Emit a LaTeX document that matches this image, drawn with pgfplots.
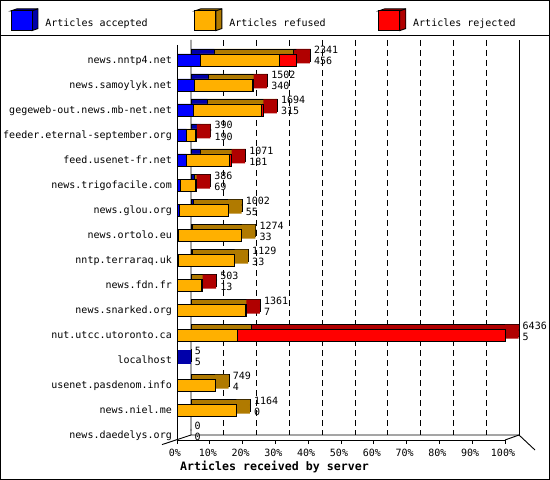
\documentclass[border=0pt]{standalone}
\usepackage{fontspec}
\setmainfont{DejaVu Sans Mono}
\usepackage{pgfplots}
\usepackage{pgfplotstable}
\pgfplotsset{compat=1.18}

\definecolor{cblue}{RGB}{0,0,255}
\definecolor{dblue}{RGB}{0,0,170}
\definecolor{corange}{RGB}{255,176,0}
\definecolor{dorange}{RGB}{176,122,0}
\definecolor{cred}{RGB}{255,0,0}
\definecolor{dred}{RGB}{176,0,0}

% row, accepted, refused, rejected, total offered; dr/do/db = depth of the side face
\pgfplotstableread{
row acc ref rej tot dr do db
0 456 1558 327 2341 264.9 0 0
1 340 1140 22 1502 264.9 0 0
2 315 1349 30 1694 264.9 0 0
3 190 180 20 390 264.9 0 0
4 181 845 45 1071 264.9 0 0
5 69 297 20 386 264.9 0 0
6 55 947 0 1002 0 264.9 0
7 33 1241 0 1274 0 264.9 0
8 33 1096 0 1129 0 264.9 0
9 13 471 19 503 264.9 0 0
10 7 1340 14 1361 264.9 0 0
11 5 1183 5248 6436 264.9 0 0
12 5 0 0 5 0 0 264.9
13 4 745 0 749 0 264.9 0
14 0 1164 0 1164 0 264.9 0
15 0 0 0 0 0 0 0
}\servers

\newcommand\cube[2]{%
  \draw[black, fill=#2, line width=0.9bp] (0bp,12.8bp) -- (6bp,14.9bp) -- (27bp,14.9bp)
    -- (27bp,-4.8bp) -- (21bp,-6.9bp) -- (21bp,12.8bp) -- cycle;
  \draw[black, line width=0.9bp] (21bp,12.8bp) -- (27bp,14.9bp);
  \draw[black, fill=#1, line width=0.9bp] (0bp,-6.9bp) rectangle (21bp,12.8bp);
}

\pgfplotsset{
  frame3d/.style={
    scale only axis, width=328bp, height=395bp,
    xmin=0, xmax=6436, ymin=-0.6, ymax=15.2, y dir=reverse,
    enlargelimits=false, clip=false, anchor=south west,
    axis line style={draw=none},
    /pgf/number format/assume math mode=true,
  },
  edge/.style={draw=black, line width=0.9bp},
}

\begin{document}
\begin{tikzpicture}[font=\fontsize{10bp}{12bp}\selectfont]
\useasboundingbox (0,0) rectangle (550bp,480bp);
\fill[white] (0,0) rectangle (550bp,480bp);

% back plane: walls, grid and the far copy of the bars
\begin{axis}[frame3d, at={(191bp,45bp)}, xbar stacked, bar width=12bp,
  xtick={643.6,1287.2,1930.8,2574.4,3218,3861.6,4505.2,5148.8,5792.4},
  xticklabels={}, major tick length=0pt, ytick=\empty,
  xmajorgrids, grid style={black, line width=0.9bp, dash pattern=on 6bp off 4bp}]
\draw[line width=0.9bp] (rel axis cs:0,1) -- (rel axis cs:0,0) -- (rel axis cs:1,0) -- ++(16bp,0);
\draw[line width=0.9bp] (rel axis cs:1,0) -- (rel axis cs:1,1);
\addplot[fill=dblue, edge] table[x=acc, y=row]{\servers};
\addplot[fill=dorange, edge] table[x=ref, y=row]{\servers};
\addplot[fill=dred, edge] table[x=rej, y=row]{\servers};
\end{axis}

% side faces, coloured like the last segment of each bar
\begin{axis}[frame3d, at={(177bp,43.5bp)}, xbar stacked, bar width=14bp, ticks=none]
\addplot[draw=none, fill=none] table[x=acc, y=row]{\servers};
\addplot[draw=none, fill=none] table[x=ref, y=row]{\servers};
\addplot[draw=none, fill=none] table[x=rej, y=row]{\servers};
\addplot[draw=none, fill=dred] table[x=dr, y=row]{\servers};
\addplot[draw=none, fill=dorange] table[x=do, y=row]{\servers};
\addplot[draw=none, fill=dblue] table[x=db, y=row]{\servers};
\end{axis}

% front plane
\begin{axis}[frame3d, at={(177bp,40bp)}, xbar stacked, bar width=12bp,
  xtick={0,643.6,1287.2,1930.8,2574.4,3218,3861.6,4505.2,5148.8,5792.4,6436},
  xticklabels={0\%,10\%,20\%,30\%,40\%,50\%,60\%,70\%,80\%,90\%,100\%},
  xtick pos=bottom, tick align=outside, major tick length=4bp,
  xtick style={black, line width=0.9bp},
  ytick={0,...,15}, ytick pos=left, ytick style={draw=none},
  yticklabels={news.nntp4.net, news.samoylyk.net, gegeweb-out.news.mb-net.net,
    feeder.eternal-september.org, feed.usenet-fr.net, news.trigofacile.com,
    news.glou.org, news.ortolo.eu, nntp.terraraq.uk, news.fdn.fr,
    news.snarked.org, nut.utcc.utoronto.ca, localhost, usenet.pasdenom.info,
    news.niel.me, news.daedelys.org},
  yticklabel style={anchor=base east, inner sep=0pt, xshift=-1bp, yshift=-3.3bp},
  xticklabel style={anchor=base, inner sep=0pt, xshift=-2bp, yshift=-12.3bp},
  xlabel={Articles received by server},
  xlabel style={at={(rel axis cs:0,0)}, anchor=base west, inner sep=0pt,
    xshift=3bp, yshift=-30.7bp, font=\fontsize{11.6bp}{13bp}\selectfont\bfseries},
  legend columns=3,
  legend style={at={(axis description cs:-0.5076,1.0927)}, anchor=north west,
    draw=none, fill=none, inner sep=0pt, outer sep=0pt,
    column sep=0pt, row sep=0pt, nodes={inner sep=0pt},
    /tikz/every odd column/.append style={column sep=7bp}}]
\draw[line width=0.9bp] (rel axis cs:0,1) -- (rel axis cs:0,0) -- (rel axis cs:1,0);
\draw[line width=0.9bp] (rel axis cs:0,0) ++(-15bp,-4.6bp) -- ++(29bp,9.6bp);
\draw[line width=0.9bp] (rel axis cs:1,0) -- ++(14bp,5bp);
\addplot[fill=cblue, edge, legend image code/.code={\cube{cblue}{dblue}}]
  table[x=acc, y=row]{\servers};
\addlegendentry{\makebox[149bp][l]{Articles accepted}}
\addplot[fill=corange, edge, legend image code/.code={\cube{corange}{dorange}}]
  table[x=ref, y=row]{\servers};
\addlegendentry{\makebox[149bp][l]{Articles refused}}
\addplot[fill=cred, edge, legend image code/.code={\cube{cred}{dred}}]
  table[x=rej, y=row]{\servers};
\addlegendentry{\makebox[149bp][l]{Articles rejected}}
\end{axis}

% totals and accepted counts at the far end of each bar
\begin{axis}[frame3d, at={(191bp,45bp)}, ticks=none]
\addplot[only marks, mark=*, mark size=0.1bp, mark options={draw=none, fill=none},
  point meta=explicit symbolic, nodes near coords={\pgfplotspointmeta},
  nodes near coords style={anchor=base west, inner sep=0pt, xshift=3.5bp, yshift=1bp}]
  table[x=tot, y=row, meta=tot]{\servers};
\addplot[only marks, mark=*, mark size=0.1bp, mark options={draw=none, fill=none},
  point meta=explicit symbolic, nodes near coords={\pgfplotspointmeta},
  nodes near coords style={anchor=base west, inner sep=0pt, xshift=3.5bp, yshift=-10bp}]
  table[x=tot, y=row, meta=acc]{\servers};
\end{axis}

\draw[line width=1bp] (0.5bp,0.5bp) rectangle (549.5bp,479.5bp);
\draw[line width=1bp] (0,444.5bp) -- (550bp,444.5bp);
\end{tikzpicture}
\end{document}
